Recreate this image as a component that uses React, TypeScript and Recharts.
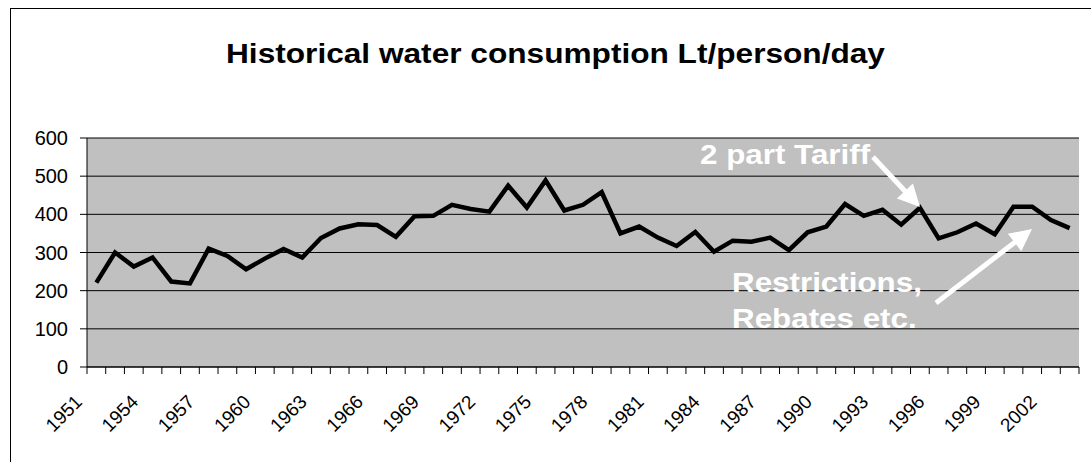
import React from "react";
import { CartesianGrid, Line, LineChart, XAxis, YAxis } from "recharts";

const years = [
  "1951", "1952", "1953", "1954", "1955", "1956", "1957", "1958", "1959", "1960",
  "1961", "1962", "1963", "1964", "1965", "1966", "1967", "1968", "1969", "1970",
  "1971", "1972", "1973", "1974", "1975", "1976", "1977", "1978", "1979", "1980",
  "1981", "1982", "1983", "1984", "1985", "1986", "1987", "1988", "1989", "1990",
  "1991", "1992", "1993", "1994", "1995", "1996", "1997", "1998", "1999", "2000",
  "2001", "2002", "2003",
];

// litres per person per day
const consumption = [
  221, 300, 263, 287, 224, 219, 310, 291, 256, 284,
  309, 287, 338, 363, 374, 372, 341, 395, 396, 425,
  414, 407, 475, 418, 489, 410, 425, 458, 350, 368,
  339, 317, 354, 302, 331, 328, 339, 306, 353, 368,
  427, 396, 412, 373, 417, 337, 353, 376, 348, 420,
  420, 385, 364,
];

const labelYears = [
  "1951", "1954", "1957", "1960", "1963", "1966", "1969", "1972", "1975",
  "1978", "1981", "1984", "1987", "1990", "1993", "1996", "1999", "2002",
];

const yTicks = [0, 100, 200, 300, 400, 500, 600];

const font = "Arial, 'Liberation Sans', sans-serif";

// each year sits in the middle of its slot, tick marks go on the slot edges
const chartData = years.map((year, i) => ({ year, pos: i + 0.5, value: consumption[i] }));
const edgeTicks = years.map((_, i) => i).concat([years.length]);
const labelTicks = labelYears.map((y) => years.indexOf(y) + 0.5);
const xTicks = [...edgeTicks, ...labelTicks].sort((a, b) => a - b);

function XTick(props: any) {
  const { x, y, payload } = props;
  const v = payload.value;
  if (Number.isInteger(v)) {
    return <line x1={x} x2={x} y1={y} y2={y + 7} stroke="#000" />;
  }
  const ax = x - 13;
  const ay = y + 36;
  return (
    <text
      x={ax}
      y={ay}
      transform={`rotate(-45 ${ax} ${ay})`}
      textAnchor="end"
      fontSize={19}
      fontFamily={font}
      fill="#000"
    >
      {years[Math.floor(v)]}
    </text>
  );
}

function Arrow({ from, to }: { from: [number, number]; to: [number, number] }) {
  const dx = to[0] - from[0];
  const dy = to[1] - from[1];
  const len = Math.hypot(dx, dy);
  const ux = dx / len;
  const uy = dy / len;
  const head = 22;
  const half = 11;
  const bx = to[0] - ux * head;
  const by = to[1] - uy * head;
  const pts = [
    [to[0], to[1]],
    [bx - uy * half, by + ux * half],
    [bx + uy * half, by - ux * half],
  ]
    .map((p) => p.join(","))
    .join(" ");
  return (
    <g>
      <line x1={from[0]} y1={from[1]} x2={bx + ux * 2} y2={by + uy * 2} stroke="#fff" strokeWidth={5} />
      <polygon points={pts} fill="#fff" />
    </g>
  );
}

export default function App() {
  return (
    <div style={{ position: "absolute", left: 0, top: 0, width: 1091, height: 462, background: "#fff" }}>
      <LineChart
        width={1091}
        height={462}
        data={chartData}
        margin={{ top: 138, right: 12, left: 0, bottom: 0 }}
      >
        <CartesianGrid vertical={false} stroke="#000" fill="#c0c0c0" fillOpacity={1} />
        <XAxis
          dataKey="pos"
          type="number"
          domain={[0, years.length]}
          ticks={xTicks}
          interval={0}
          height={95}
          tickSize={0}
          tickMargin={0}
          tickLine={false}
          axisLine={{ stroke: "#000" }}
          tick={<XTick />}
        />
        <XAxis
          xAxisId="top"
          orientation="top"
          dataKey="pos"
          type="number"
          domain={[0, years.length]}
          height={0}
          tick={false}
          tickLine={false}
          axisLine={{ stroke: "#808080", strokeWidth: 2 }}
        />
        <YAxis
          type="number"
          domain={[0, 600]}
          ticks={yTicks}
          interval={0}
          width={87}
          tickSize={7}
          tickMargin={12}
          axisLine={{ stroke: "#000" }}
          tickLine={{ stroke: "#000" }}
          tick={{ fontSize: 20, fill: "#000", fontFamily: font }}
        />
        <YAxis
          yAxisId="right"
          orientation="right"
          type="number"
          domain={[0, 600]}
          width={0}
          tick={false}
          tickLine={false}
          axisLine={{ stroke: "#808080", strokeWidth: 2 }}
        />
        <Line
          type="linear"
          dataKey="value"
          stroke="#000"
          strokeWidth={4.5}
          dot={false}
          isAnimationActive={false}
        />
      </LineChart>
      <svg
        width={1091}
        height={462}
        style={{ position: "absolute", left: 0, top: 0, pointerEvents: "none" }}
      >
        <rect x={10.5} y={8.5} width={1100} height={500} fill="none" stroke="#000" />
        <text
          transform="translate(555.5 63) scale(1.13 1)"
          textAnchor="middle"
          fontSize={28}
          fontWeight="bold"
          fontFamily={font}
          fill="#000"
        >
          Historical water consumption Lt/person/day
        </text>
        <g fontSize={28} fontWeight="bold" fontFamily={font} fill="#fff">
          <text transform="translate(700 164) scale(1.12 1)">2 part Tariff</text>
          <text transform="translate(732 292) scale(1.12 1)">Restrictions,</text>
          <text transform="translate(732 328) scale(1.12 1)">Rebates etc.</text>
        </g>
        <Arrow from={[873, 157]} to={[920, 207]} />
        <Arrow from={[936, 303]} to={[1032, 229]} />
      </svg>
    </div>
  );
}
